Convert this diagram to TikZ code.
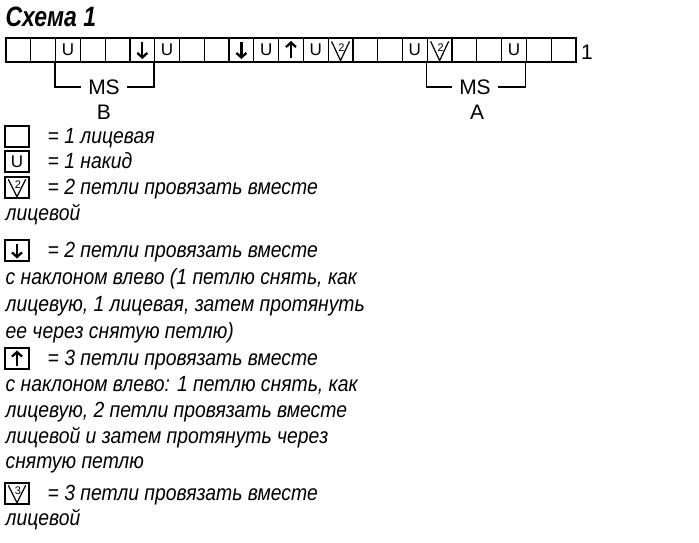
\documentclass[tikz,border=0pt]{standalone}
\usepackage{fontspec}
\setmainfont{Liberation Sans}
\newfontfamily\lgfont{Liberation Sans}[FakeStretch=0.88]
\newfontfamily\ttlfont{Liberation Sans}[FakeStretch=0.82]
\usetikzlibrary{calc,arrows.meta}
\tikzstyle{cell}=[shape=rectangle, minimum width=24.78pt, minimum height=24pt, inner sep=0, draw, line width=1.2pt]
\tikzstyle{key}=[shape=rectangle, minimum width=24pt, minimum height=21pt, inner sep=0, draw, line width=1.4pt]
\tikzstyle{yo}=[inner sep=0, font=\fontsize{17}{20}\selectfont]
\tikzstyle{sm}=[inner sep=0, font=\fontsize{11}{12}\selectfont]
\tikzstyle{ms}=[inner xsep=7pt, inner ysep=0, font=\fontsize{21}{24}\selectfont]
\tikzstyle{lg}=[anchor=base west, inner sep=0, font=\fontsize{22}{26}\selectfont\lgfont\itshape]
\tikzstyle{arw}=[line width=2.3pt, -{Straight Barb[length=4.5pt, width=10pt]}]

\begin{document}
\begin{tikzpicture}[x=1pt, y=-1pt, line width=1.2pt]
\useasboundingbox (0,0) rectangle (699,543);
\node[anchor=base west, inner sep=0, font=\fontsize{28}{32}\selectfont\ttlfont\bfseries\itshape] (title) at (5,27) {Схема 1};
% chart row
\foreach \i in {1,...,23}
	\draw (6+24.78*\i-12.39,50) node[cell](c\i) {};
\foreach \i in {3,7,11,13,17,21}
	\node[yo](u\i) at (c\i) {U};
\draw[arw] ([yshift=8pt]c6.center) -- ([yshift=-9pt]c6.center);
\draw[arw] ([yshift=8pt]c10.center) -- ([yshift=-9pt]c10.center);
\draw[arw] ([yshift=-8pt]c12.center) -- ([yshift=9pt]c12.center);
\foreach \c in {c14,c18}
	{\draw ($(\c.north west)+(4,4)$) -- ($(\c.south)+(0,-2)$) -- ($(\c.north east)+(-4,4)$);
	\node[sm](n\c) at ($(\c.north)+(1,10)$) {2};}
\node[ms](row) at (587,52) {1};
% repeats
\node[ms](msb) at (104,87) {MS};
\node[ms](lb) at (104,112) {B};
\draw (c3.south west) |- (msb.west);
\draw (c7.south west) |- (msb.east);
\node[ms](msa) at (475,87) {MS};
\node[ms](la) at (477,112) {A};
\draw (c18.south west) |- (msa.west);
\draw (c22.south west) |- (msa.east);
% key
\draw (17,136.5) node[key](k1) {};
\draw (17,161.5) node[key](k2) {};
\draw (17,187.5) node[key](k3) {};
\draw (17,250.5) node[key](k4) {};
\draw (17,358.5) node[key](k5) {};
\draw (17,493.5) node[key](k6) {};
\node[yo](uk) at (k2) {U};
\draw[arw] ([yshift=7pt]k4.center) -- ([yshift=-8pt]k4.center);
\draw[arw] ([yshift=-7pt]k5.center) -- ([yshift=8pt]k5.center);
\foreach \c/\n in {k3/2,k6/3}
	{\draw ($(\c.north west)+(4,3)$) -- ($(\c.south)+(0,-2)$) -- ($(\c.north east)+(-4,3)$);
	\node[sm](n\c) at ($(\c.north)+(1,8)$) {\n};}
\node[lg](t1) at (47,143) {= 1 лицевая};
\node[lg](t2) at (47,168) {= 1 накид};
\node[lg](t3) at (47,194) {= 2 петли провязать вместе};
\node[lg](t3b) at (5,220) {лицевой};
\node[lg](t4) at (47,257) {= 2 петли провязать вместе};
\node[lg](t4b) at (5,284) {с наклоном влево (1 петлю снять, как};
\node[lg](t4c) at (5,311) {лицевую, 1 лицевая, затем протянуть};
\node[lg](t4d) at (5,338) {ее через снятую петлю)};
\node[lg](t5) at (47,365) {= 3 петли провязать вместе};
\node[lg](t5b) at (5,391) {с наклоном влево: 1 петлю снять, как};
\node[lg](t5c) at (5,417) {лицевую, 2 петли провязать вместе};
\node[lg](t5d) at (5,443) {лицевой и затем протянуть через};
\node[lg](t5e) at (5,468) {снятую петлю};
\node[lg](t6) at (47,500) {= 3 петли провязать вместе};
\node[lg](t6b) at (5,525) {лицевой};
\end{tikzpicture}
\end{document}
